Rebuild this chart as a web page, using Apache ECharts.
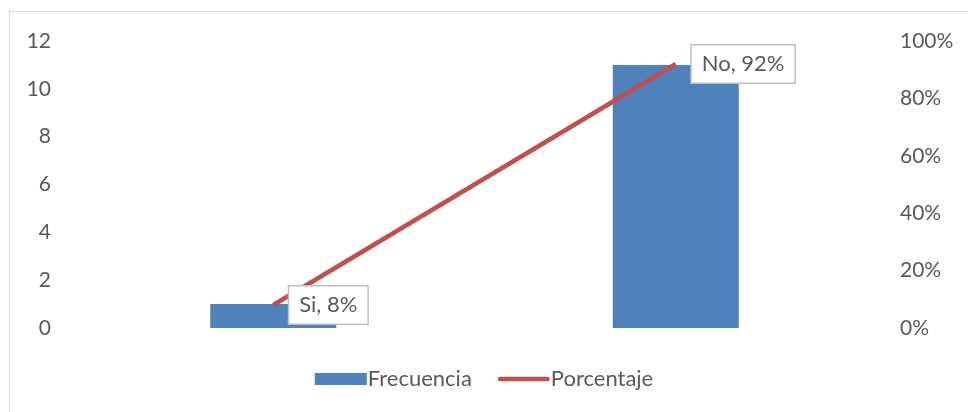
<!DOCTYPE html>
<html>
<head>
<meta charset="utf-8">
<script src="https://cdn.jsdelivr.net/npm/echarts@6/dist/echarts.min.js"></script>
<style>
html,body{margin:0;padding:0;background:#fff;}
#frame{position:absolute;left:9px;top:11px;width:980px;height:420px;border:1px solid #d9d9d9;box-sizing:border-box;}
#c{position:absolute;left:0;top:0;width:968px;height:412px;}
</style>
</head>
<body>
<div id="frame"></div>
<div id="c"></div>
<script>
const categories = ['Si', 'No'];
const frecuencia = [1, 11];
const porcentaje = [0.08, 0.92];
const leftTicks = [0, 2, 4, 6, 8, 10, 12];
const rightTicks = ['0%', '20%', '40%', '60%', '80%', '100%'];

const font = 'Lato, "Open Sans", sans-serif';
const txt = '#595959';
const chart = echarts.init(document.getElementById('c'));
chart.setOption({
  animation: false,
  textStyle: {fontFamily: font},
  grid: {left: 72, right: 91, top: 41, bottom: 84, containLabel: false},
  legend: {
    bottom: 17, left: 'center',
    itemWidth: 52, itemHeight: 12, itemGap: 26,
    textStyle: {fontSize: 22, color: txt, fontFamily: font, padding: [0,0,0,-4]},
    data: [
      {name: 'Frecuencia', icon: 'rect'},
      {name: 'Porcentaje', icon: 'path://M2.5,0 L53.5,0 A2.5,2.5 0 0 1 53.5,5 L2.5,5 A2.5,2.5 0 0 1 2.5,0 Z',
       itemStyle: {color: '#c0504d'}}
    ]
  },
  xAxis: {
    type: 'category', data: categories,
    axisLine: {show: false}, axisTick: {show: false}, axisLabel: {show: false}
  },
  yAxis: [{
    type: 'value', min: leftTicks[0], max: leftTicks[leftTicks.length-1], interval: 2,
    splitLine: {show: false}, axisLine: {show: false}, axisTick: {show: false},
    axisLabel: {fontSize: 21, color: txt, margin: 21, fontFamily: font}
  }, {
    type: 'value', min: 0, max: 1, interval: 0.2,
    splitLine: {show: false}, axisLine: {show: false}, axisTick: {show: false},
    axisLabel: {fontSize: 21, color: txt, margin: 23, fontFamily: font,
      formatter: (v) => rightTicks[Math.round(v * 5)]}
  }],
  series: [{
    name: 'Frecuencia', type: 'bar', data: frecuencia, barWidth: 126,
    itemStyle: {color: '#4f81bd'}
  }, {
    name: 'Porcentaje', type: 'line', yAxisIndex: 1, data: porcentaje,
    symbol: 'circle', symbolSize: 0, showSymbol: true,
    lineStyle: {color: '#c0504d', width: 4.5},
    itemStyle: {color: '#c0504d'},
    label: {
      show: true, position: 'right', distance: 16,
      formatter: (p) => p.name + ', ' + Math.round(p.value * 100) + '%',
      fontSize: 22, color: txt, fontFamily: font,
      backgroundColor: '#fff', borderColor: '#bfbfbf', borderWidth: 1.5,
      padding: [8, 10, 7, 10]
    }
  }]
});
</script>
</body>
</html>
